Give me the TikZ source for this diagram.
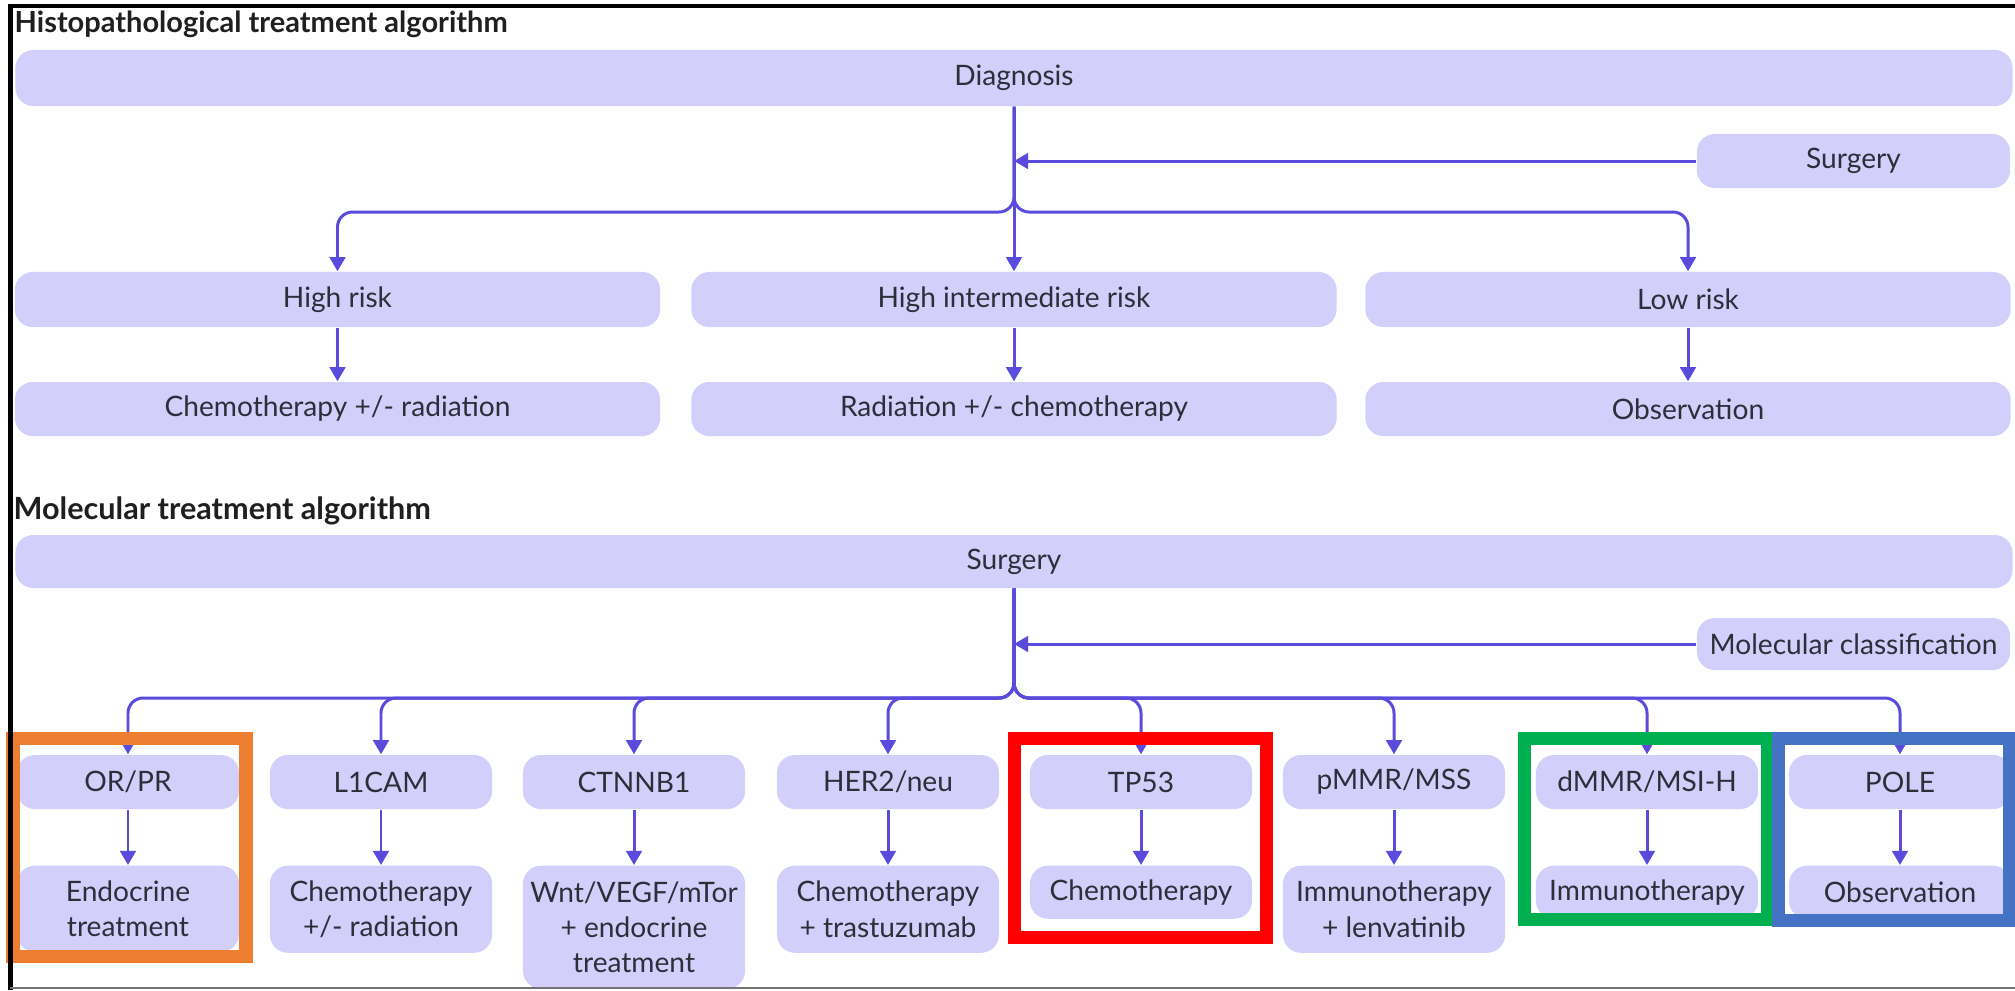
\documentclass[tikz,border=0pt]{standalone}
\usepackage{fontspec}
\setmainfont{Lato}
\usetikzlibrary{arrows.meta}
\definecolor{boxfill}{HTML}{D2CFFA}
\definecolor{conncol}{HTML}{5A4BDD}
\definecolor{txt}{HTML}{2E2E3A}
\definecolor{oframe}{HTML}{ED7D31}
\definecolor{rframe}{HTML}{FF0000}
\definecolor{gframe}{HTML}{00B050}
\definecolor{bframe}{HTML}{4472C4}
\tikzset{
  pbox/.style={fill=boxfill, rounded corners=0.18cm, inner sep=0pt, text=txt,
    font=\fontsize{8}{9.96}\selectfont, align=center},
  conn/.style={draw=conncol, line width=0.85pt, -{Triangle[width=4.4pt,length=4pt]}},
  ttl/.style={anchor=west, inner sep=0pt, font=\bfseries\fontsize{8.25}{9.5}\selectfont, text=black!88},
  hlframe/.style={line width=3.7pt}
}
\begin{document}
\begin{tikzpicture}[x=0.01cm,y=-0.01cm]
\useasboundingbox (0,0) rectangle (2015,990);
\fill[white] (0,0) rectangle (2015,990);

% ---------- Histopathological ----------
\node[ttl] (t1) at (14,24) {Histopathological treatment algorithm};
\node[pbox, minimum width=19.96cm, minimum height=0.56cm] (diag) at (1014,78) {Diagnosis};
\node[pbox, minimum width=3.13cm, minimum height=0.54cm] (surgA) at (1853.5,161) {Surgery};
\node[pbox, minimum width=6.45cm, minimum height=0.55cm] (hr) at (337.5,299.5) {High risk};
\node[pbox, minimum width=6.45cm, minimum height=0.55cm] (hir) at (1014,299.5) {High intermediate risk};
\node[pbox, minimum width=6.45cm, minimum height=0.55cm] (lr) at (1688,299.5) {Low risk};
\node[pbox, minimum width=6.45cm, minimum height=0.54cm] (hrT) at (337.5,409) {Chemotherapy +/- radiation};
\node[pbox, minimum width=6.45cm, minimum height=0.54cm] (hirT) at (1014,409) {Radiation +/- chemotherapy};
\node[pbox, minimum width=6.45cm, minimum height=0.54cm] (lrT) at (1688,409) {Observation};

\coordinate (jA) at (1014,212);
\draw[conn, rounded corners=0.15cm] (diag.south) -- (jA) -- (jA -| hr.north) -- (hr.north);
\draw[conn, rounded corners=0.15cm] (diag.south) -- (jA) -- (jA -| lr.north) -- (lr.north);
\draw[conn] (diag.south) -- (hir.north);
\draw[conn] (surgA.west) -- (surgA.west -| diag.south);
\draw[conn] (hr.south) -- (hrT.north);
\draw[conn] (hir.south) -- (hirT.north);
\draw[conn] (lr.south) -- (lrT.north);

% ---------- Molecular ----------
\node[ttl, font=\bfseries\fontsize{8.7}{10}\selectfont] (t2) at (13,511) {Molecular treatment algorithm};
\node[pbox, minimum width=19.96cm, minimum height=0.53cm] (surgB) at (1014,561.5) {Surgery};
\node[pbox, minimum width=3.13cm, minimum height=0.52cm] (mc) at (1853.5,644) {Molecular classification};

\tikzset{abox/.style={pbox, minimum width=2.22cm, minimum height=0.54cm},
         bbox/.style={pbox, anchor=north, minimum width=2.22cm}}
\node[abox] (orpr) at (128,782) {OR/PR};
\node[abox] (lcam) at (381,782) {L1CAM};
\node[abox] (ctn)  at (634,782) {CTNNB1};
\node[abox] (her)  at (888,782) {HER2/neu};
\node[abox] (tp)   at (1141,782) {TP53};
\node[abox] (pmmr) at (1394,782) {pMMR/MSS};
\node[abox] (dmmr) at (1647,782) {dMMR/MSI-H};
\node[abox] (pole) at (1900,782) {POLE};

\node[bbox, minimum height=0.86cm] (orprT) at (128,865) {Endocrine\\treatment};
\node[bbox, minimum height=0.87cm] (lcamT) at (381,865) {Chemotherapy\\+/- radiation};
\node[bbox, minimum height=1.23cm] (ctnT)  at (634,865) {Wnt/VEGF/mTor\\+ endocrine\\treatment};
\node[bbox, minimum height=0.87cm] (herT)  at (888,865) {Chemotherapy\\+ trastuzumab};
\node[bbox, minimum height=0.53cm] (tpT)   at (1141,865) {Chemotherapy};
\node[bbox, minimum height=0.87cm] (pmmrT) at (1394,865) {Immunotherapy\\+ lenvatinib};
\node[bbox, minimum height=0.53cm] (dmmrT) at (1647,865) {Immunotherapy};
\node[bbox, minimum height=0.53cm] (poleT) at (1900,865) {Observation};

\coordinate (jB) at (1014,698);
\foreach \c in {orpr,lcam,ctn,her,tp,pmmr,dmmr,pole}{
  \draw[conn, rounded corners=0.15cm] (surgB.south) -- (jB) -- (jB -| \c.north) -- (\c.north);
  \draw[conn] (\c.south) -- (\c T.north);
}
\draw[conn] (mc.west) -- (mc.west -| surgB.south);

% ---------- highlight frames ----------
\draw[oframe, hlframe] (13,738) rectangle (246,956);
\draw[rframe, hlframe] (1014.5,738.5) rectangle (1266,937.5);
\draw[gframe, hlframe] (1524,738) rectangle (1767,919);
\draw[bframe, hlframe] (1778,738) rectangle (2009,920);

% ---------- outer border ----------
\draw[black, line width=1.4pt] (10.5,990) -- (10.5,6) -- (2015,6);
\draw[black!55, line width=0.6pt] (10,988) -- (2015,988);
\end{tikzpicture}
\end{document}
